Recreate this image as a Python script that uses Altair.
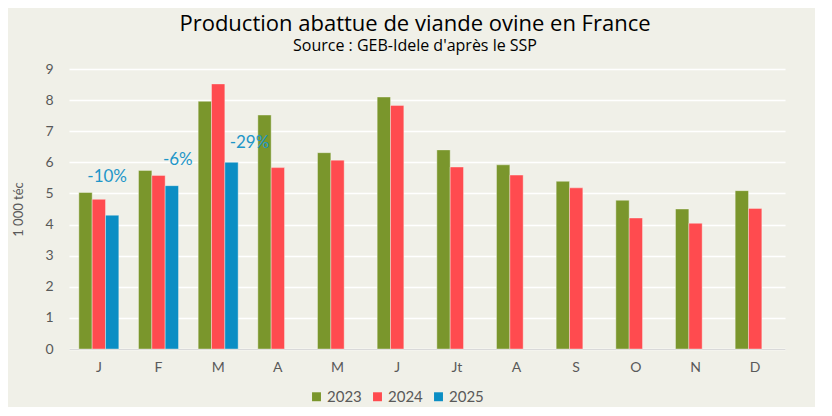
import altair as alt
import pandas as pd

months = ["J", "F", "M", "A", "M", "J", "Jt", "A", "S", "O", "N", "D"]
v2023 = [5.03, 5.74, 7.96, 7.52, 6.31, 8.10, 6.40, 5.92, 5.39, 4.78, 4.50, 5.09]
v2024 = [4.81, 5.58, 8.52, 5.83, 6.07, 7.83, 5.85, 5.59, 5.18, 4.21, 4.04, 4.52]
v2025 = [4.30, 5.25, 6.00]
years = ["2023", "2024", "2025"]
colors = ["#7A962C", "#FF4B4F", "#0B8EC4"]

annot_text = ["-10%", "-6%", "-29%"]
annot_y = [5.54, 6.08, 6.63]
annot_dx = [-5, 6, 18]

rows = []
for i in range(12):
    rows.append({"idx": i, "year": "2023", "value": v2023[i]})
    rows.append({"idx": i, "year": "2024", "value": v2024[i]})
for i, v in enumerate(v2025):
    rows.append({"idx": i, "year": "2025", "value": v})
df = pd.DataFrame(rows)

adf = pd.DataFrame({"idx": [0, 1, 2], "year": ["2025"] * 3, "label": annot_text,
                    "value": annot_y})

label_expr = "[" + ",".join(f"'{m}'" for m in months) + "][datum.value]"

font = "Lato"
gray = "#595959"

xenc = alt.X("idx:O", title=None,
             scale=alt.Scale(paddingInner=0.33, paddingOuter=0.165),
             axis=alt.Axis(labelExpr=label_expr, labelAngle=0, ticks=False,
                           domainColor="#D9D9D9", domainWidth=1.2,
                           labelColor=gray, labelFontSize=14, labelFont=font,
                           labelPadding=11, grid=False))
xoff = alt.XOffset("year:N", scale=alt.Scale(domain=years))
yenc = alt.Y("value:Q", title="1 000 téc",
             scale=alt.Scale(domain=[0, 9], nice=False),
             axis=alt.Axis(values=[0, 1, 2, 3, 4, 5, 6, 7, 8, 9], domain=False, ticks=False,
                           labelOverlap=False,
                           gridColor="#FFFFFF", gridWidth=1.5,
                           labelColor=gray, labelFontSize=14, labelFont=font,
                           labelPadding=16, titleColor=gray, titleFontSize=13,
                           titleFont=font, titleFontWeight="normal",
                           titlePadding=19))

bars = alt.Chart(df).mark_bar(stroke="#F7F7F0", strokeWidth=0.4).encode(
    x=xenc,
    xOffset=xoff,
    y=yenc,
    color=alt.Color("year:N", scale=alt.Scale(domain=years, range=colors),
                    legend=alt.Legend(title=None, orient="none", direction="horizontal",
                                      legendX=240, legendY=320,
                                      symbolType="square", symbolSize=80,
                                      symbolStrokeWidth=0,
                                      labelFontSize=15, labelFont=font,
                                      labelColor=gray, columnPadding=8,
                                      labelOffset=3)),
)

tlayers = []
for i in range(len(annot_text)):
    tlayers.append(
        alt.Chart(adf.iloc[[i]]).mark_text(color="#1E96C8", fontSize=17, font=font,
                                           baseline="middle", align="center",
                                           dx=annot_dx[i]).encode(
            x=xenc,
            xOffset=xoff,
            y=yenc,
            text="label:N",
        )
    )

chart = alt.layer(bars, *tlayers).properties(
    width=716, height=280,
    background="#F0F0E8",
    padding={"left": 61, "top": 61, "right": 30, "bottom": 58},
    autosize=alt.AutoSizeParams(type="none"),
    title=alt.TitleParams(
        text="Production abattue de viande ovine en France",
        subtitle="Source : GEB-Idele d'après le SSP",
        anchor="middle", dx=-12, font="Open Sans", fontSize=22,
        fontWeight="normal", color="#000000",
        subtitleFont="Open Sans", subtitleFontSize=16, subtitleColor="#000000",
        subtitlePadding=2, offset=7),
).configure_view(stroke=None)

chart.save("out.html", embed_options={"renderer": "svg", "actions": False})
